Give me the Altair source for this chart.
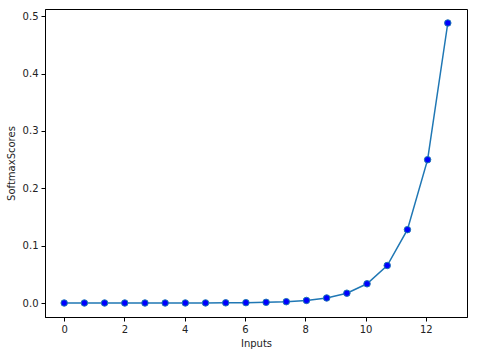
import altair as alt
import pandas as pd

inputs = [0.0, 0.67, 1.34, 2.01, 2.68, 3.35, 4.02, 4.69, 5.36, 6.03,
          6.70, 7.37, 8.04, 8.71, 9.38, 10.05, 10.72, 11.39, 12.06, 12.73]
scores = [0.0000014, 0.0000028, 0.0000055, 0.0000108, 0.0000211, 0.0000412,
          0.0000806, 0.000157, 0.000308, 0.000601, 0.00118, 0.0023,
          0.00449, 0.00877, 0.0171, 0.0335, 0.0654, 0.1279, 0.2499, 0.4883]

df = pd.DataFrame({"Inputs": inputs, "SoftmaxScores": scores})

font = "DejaVu Sans"

x = alt.X("Inputs:Q", scale=alt.Scale(domain=[-0.637, 13.367], nice=False, zero=False),
          axis=alt.Axis(values=[0, 2, 4, 6, 8, 10, 12], format="d", title="Inputs",
                        grid=False, tickSize=4, labelPadding=3, titlePadding=4))
y = alt.Y("SoftmaxScores:Q", scale=alt.Scale(domain=[-0.0244, 0.5127], nice=False, zero=False),
          axis=alt.Axis(values=[0, 0.1, 0.2, 0.3, 0.4, 0.5], format=".1f", title="SoftmaxScores",
                        grid=False, tickSize=4, labelPadding=3, titlePadding=6))

line = alt.Chart(df).mark_line(color="#1f77b4", strokeWidth=1.5).encode(x=x, y=y)
pts = alt.Chart(df).mark_point(filled=True, shape="circle", size=42, fill="#0000ff",
                                stroke="#1f77b4", strokeWidth=1, opacity=1).encode(x=x, y=y)

chart = (line + pts).properties(
    width=422, height=308,
    autosize=alt.AutoSizeParams(type="none"),
    padding={"left": 45, "top": 9, "right": 10, "bottom": 37},
    background="white",
).configure_view(stroke="black", strokeWidth=1).configure_axis(
    domainColor="black", tickColor="black", labelColor="#222", titleColor="#222",
    labelFont=font, titleFont=font, labelFontSize=10, titleFontSize=10,
    titleFontWeight="normal", domainWidth=1
)

chart.save("out.html", embed_options={"renderer": "svg", "actions": False})
